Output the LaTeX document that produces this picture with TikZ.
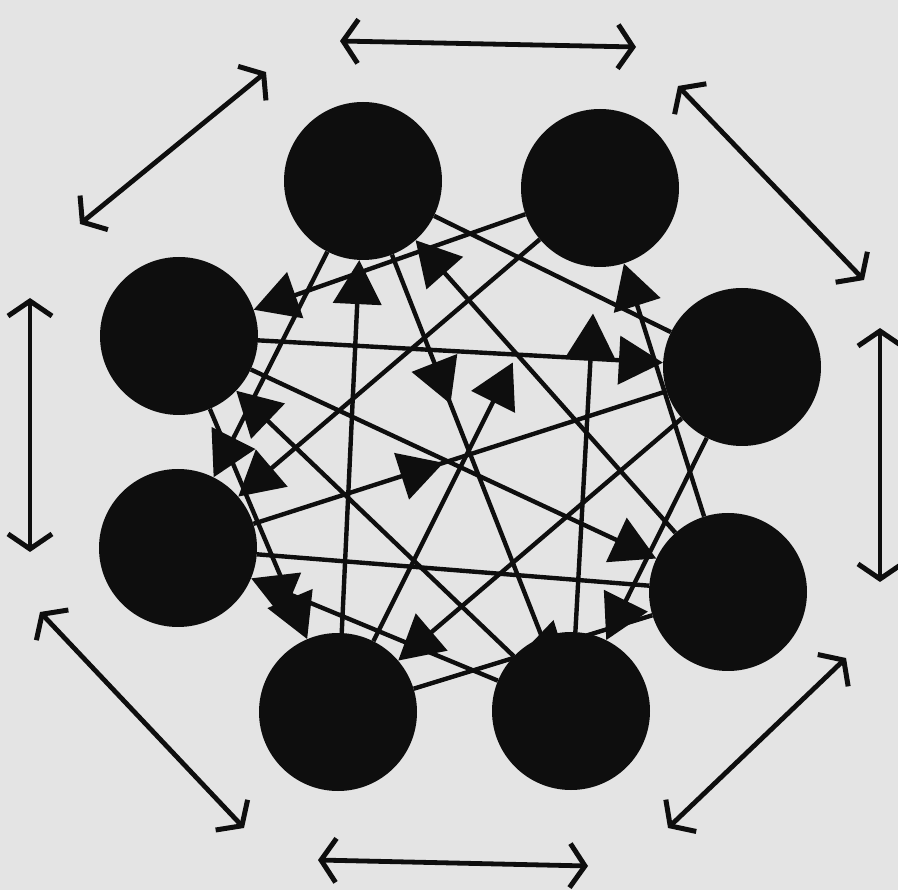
\documentclass[tikz,border=0pt]{standalone}
\usetikzlibrary{arrows.meta,decorations.markings,calc}
\definecolor{ink}{RGB}{14,14,14}
\definecolor{paper}{RGB}{228,228,228}
\begin{document}
\begin{tikzpicture}[x=1pt,y=-1pt,
  disc/.style={circle,fill=ink,minimum size=158pt,inner sep=0pt},
  link/.style={draw=ink,line width=4.4pt},
  tip/.style={-{Triangle[length=44pt,width=48pt]}},
  midtip/.style={postaction={decorate},decoration={markings,mark=at position #1 with {\arrow{Triangle[length=44pt,width=48pt]}}}},
  outer/.style={draw=ink,line width=4.8pt,{Straight Barb[length=15pt,width=44pt,line width=5pt]}-{Straight Barb[length=15pt,width=44pt,line width=5pt]}}
]
\fill[paper] (0,0) rectangle (898,890);
\useasboundingbox (0,0) rectangle (898,890);

% discs
\node[disc] (A) at (363,181) {};
\node[disc] (B) at (600,188) {};
\node[disc] (C) at (742,367) {};
\node[disc] (D) at (728,592) {};
\node[disc] (E) at (571,711) {};
\node[disc] (F) at (338,712) {};
\node[disc] (G) at (178,548) {};
\node[disc] (H) at (179,336) {};

% inner links
\draw[link,tip] (B) -- (H);
\draw[link,tip] (F) -- (A);
\draw[link,tip] (D) -- (A);
\draw[link,tip] (D) -- (B);
\draw[link,tip] (E) -- ($(E)!0.76!(B)$);
\draw[link,tip] (H) -- (C);
\draw[link,midtip=0.39] (A) -- (E);
\draw[link,tip] (F) -- ($(F)!0.667!(B)$);
\draw[link,midtip=0.46] (G) -- (C);
\draw[link,tip] (E) -- (H);
\draw[link,tip] (A) -- (G);
\draw[link,tip] (B) -- (G);
\draw[link,tip] (E) -- (G);
\draw[link,tip] (H) -- (F);
\draw[link,tip] (C) -- (F);
\draw[link,midtip=0.56] (D) -- (F);
\draw[link,tip] (C) -- (E);
\draw[link,tip] (H) -- (D);
\draw[link] (A) -- (C);
\draw[link] (D) -- (G);

% outer double arrows
\coordinate (t1) at (340,41);  \coordinate (t2) at (636,47);
\coordinate (tr1) at (678,86); \coordinate (tr2) at (864,280);
\coordinate (r1) at (880,328); \coordinate (r2) at (880,582);
\coordinate (br1) at (846,658); \coordinate (br2) at (668,828);
\coordinate (b1) at (318,860); \coordinate (b2) at (588,866);
\coordinate (bl1) at (40,612); \coordinate (bl2) at (244,828);
\coordinate (l1) at (30,298); \coordinate (l2) at (30,552);
\coordinate (tl1) at (266,72); \coordinate (tl2) at (80,224);
\draw[outer] (t1) -- (t2);
\draw[outer] (tr1) -- (tr2);
\draw[outer] (r1) -- (r2);
\draw[outer] (br1) -- (br2);
\draw[outer] (b1) -- (b2);
\draw[outer] (bl1) -- (bl2);
\draw[outer] (l1) -- (l2);
\draw[outer] (tl1) -- (tl2);
\end{tikzpicture}
\end{document}
